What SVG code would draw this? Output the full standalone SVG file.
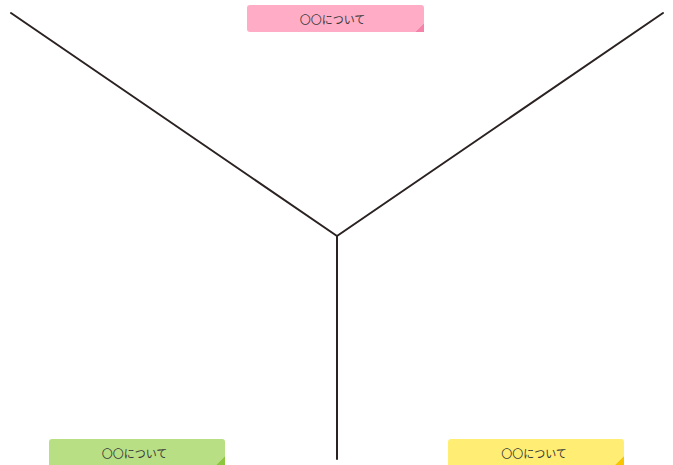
<svg xmlns="http://www.w3.org/2000/svg" width="673" height="465" viewBox="0 0 673 465">
<style>
.conn{stroke:#2b2222;stroke-width:2;fill:none;stroke-linecap:round}
.lbl{font-family:"Noto Sans CJK JP","Noto Sans",sans-serif;font-size:11px;fill:#3a3a3a;text-anchor:middle;dominant-baseline:central}
</style>
<rect width="673" height="465" fill="#ffffff"/>
<g id="connectors">
<line class="conn" x1="11" y1="13" x2="337" y2="236"/>
<line class="conn" x1="663" y1="13" x2="337" y2="236"/>
<line class="conn" x1="337" y1="236" x2="337" y2="459"/>
</g>
<g id="note-top">
<path d="M250,5 H421 Q424,5 424,8 V23 L415,32 H250 Q247,32 247,29 V8 Q247,5 250,5 Z" fill="#ffadc6"/>
<path d="M424,23 L415,32 L424,32 Z" fill="#f583a9"/>
<text class="lbl" x="332.5" y="18.5">〇〇について</text>
</g>
<g id="note-left">
<path d="M52,439 H222 Q225,439 225,442 V456 L216,465 H49 V442 Q49,439 52,439 Z" fill="#b8df84"/>
<path d="M225,456 L216,465 L225,465 Z" fill="#8dc63f"/>
<text class="lbl" x="134.5" y="452.5">〇〇について</text>
</g>
<g id="note-right">
<path d="M451,439 H621 Q624,439 624,442 V456 L615,465 H448 V442 Q448,439 451,439 Z" fill="#ffee73"/>
<path d="M624,456 L615,465 L624,465 Z" fill="#f7c600"/>
<text class="lbl" x="534" y="452.5">〇〇について</text>
</g>
</svg>
